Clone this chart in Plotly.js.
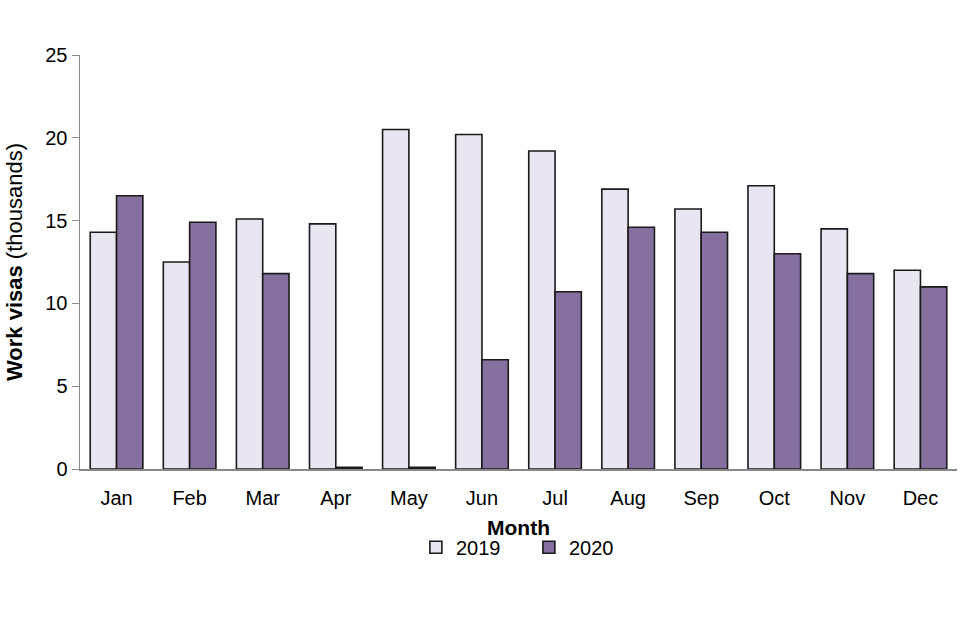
<!DOCTYPE html>
<html>
<head>
<meta charset="utf-8">
<script src="https://cdn.plot.ly/plotly-3.0.1.min.js"></script>
<style>html,body{margin:0;padding:0;background:#fff;}#chart{width:960px;height:640px;}</style>
</head>
<body>
<div id="chart"></div>
<script>
const months = ["Jan","Feb","Mar","Apr","May","Jun","Jul","Aug","Sep","Oct","Nov","Dec"];
const visas2019 = [14.3, 12.5, 15.1, 14.8, 20.5, 20.2, 19.2, 16.9, 15.7, 17.1, 14.5, 12.0];
const visas2020 = [16.5, 14.9, 11.8, 0.1, 0.1, 6.6, 10.7, 14.6, 14.3, 13.0, 11.8, 11.0];
const yTicks = [0, 5, 10, 15, 20, 25];

const ff = "Liberation Sans, Arial, sans-serif";
const tickFont = {family: ff, size: 20, color: "#000"};
const titleFont = {family: ff, size: 21, color: "#000"};

const traces = [
  {type: "bar", name: "2019", x: months, y: visas2019,
   marker: {color: "#E9E5F1", line: {color: "#1a1a1a", width: 1.6}}},
  {type: "bar", name: "2020", x: months, y: visas2020,
   marker: {color: "#8570A0", line: {color: "#1a1a1a", width: 1.6}}}
];

const layout = {
  width: 960, height: 640,
  margin: {l: 80, r: 3, t: 55, b: 171},
  paper_bgcolor: "#fff", plot_bgcolor: "#fff",
  font: tickFont,
  barmode: "group", bargap: 0.28, bargroupgap: 0,
  showlegend: true,
  legend: {orientation: "h", x: 0.383, xanchor: "left", y: -0.189, yanchor: "middle",
           font: tickFont, itemwidth: 30, traceorder: "normal",
           entrywidth: 68, entrywidthmode: "pixels"},
  xaxis: {
    type: "category", showline: true, linecolor: "#888", linewidth: 1.5,
    ticks: "", showgrid: false, tickfont: tickFont, ticklabelstandoff: 10,
    title: {text: "<b>Month</b>", font: titleFont, standoff: 13}
  },
  yaxis: {
    range: [0, 25], tickvals: yTicks, showline: true, linecolor: "#888", linewidth: 1.5,
    ticks: "outside", ticklen: 7, tickcolor: "#888", showgrid: false, zeroline: false,
    tickfont: tickFont,
    title: {text: "<b>Work visas</b> (thousands)", font: {family: ff, size: 22, color: "#000"}, standoff: 16}
  }
};

Plotly.newPlot("chart", traces, layout, {displayModeBar: false, staticPlot: true});
</script>
</body>
</html>
